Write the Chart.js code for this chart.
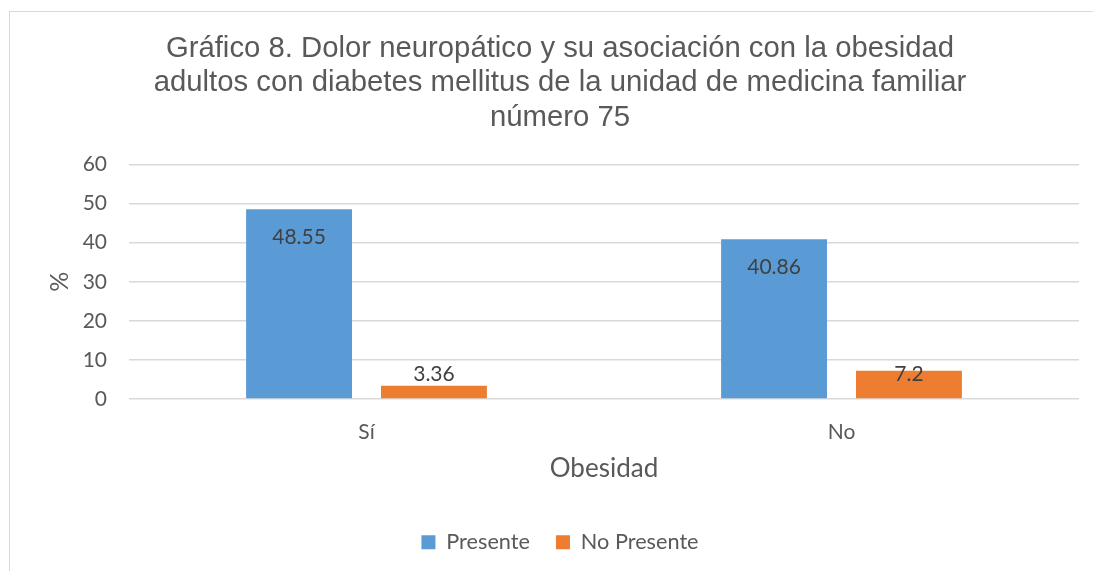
<!DOCTYPE html>
<html>
<head>
<meta charset="utf-8">
<script src="https://cdn.jsdelivr.net/npm/chart.js"></script>
<style>
  html, body { margin: 0; padding: 0; background: #fff; overflow: hidden; }
  #frame { position: absolute; left: 9px; top: 11px; width: 1200px; height: 700px; border-left: 1px solid #d9d9d9; border-top: 1px solid #d9d9d9; }
  #box { position: absolute; left: 10px; top: 11px; width: 1083px; height: 560px; }
</style>
</head>
<body>
<div id="frame"></div>
<div id="box"><canvas id="gchart"></canvas></div>
<script>
// datos
const categorias = ['Sí', 'No'];
const presente = [48.55, 40.86];
const noPresente = [3.36, 7.2];
const titulo = [
  'Gráfico 8. Dolor neuropático y su asociación con la obesidad',
  'adultos con diabetes mellitus de la unidad de medicina familiar',
  'número 75'
];

var labelFont = "Lato, 'Open Sans', sans-serif";

// etiquetas de valor como en excel
var valores = {
  id: 'valores',
  afterDatasetsDraw: function(chart) {
    var ctx = chart.ctx;
    ctx.save();
    ctx.font = '21px ' + labelFont;
    ctx.fillStyle = '#404040';
    ctx.textAlign = 'center';
    ctx.textBaseline = 'middle';
    chart.data.datasets.forEach(function(ds, i) {
      var meta = chart.getDatasetMeta(i);
      meta.data.forEach(function(bar, j) {
        var y = i === 0 ? bar.y + 28 : bar.base - 24;
        ctx.fillText(String(ds.data[j]), bar.x, y);
      });
    });
    ctx.restore();
  }
};

var ctx = document.getElementById('gchart').getContext('2d');

var data = {
  labels: categorias,
  datasets: [
    { label: 'Presente', data: presente, backgroundColor: '#5b9bd5' },
    { label: 'No Presente', data: noPresente, backgroundColor: '#ed7d31' }
  ]
};

var options = {
  responsive: true,
  maintainAspectRatio: false,
  animation: false,
  categoryPercentage: 0.568,
  barPercentage: 0.785,
  layout: { padding: { left: 31, right: 14, top: 0, bottom: 8 } },
  plugins: {
    tooltip: { enabled: false },
    title: {
      display: true,
      text: titulo,
      color: '#595959',
      font: { family: "'Liberation Sans', Arial, sans-serif", size: 29.3, weight: 'normal', lineHeight: 1.19 },
      padding: { top: 20, bottom: 29 }
    },
    legend: {
      position: 'bottom',
      labels: {
        color: '#595959',
        font: { family: labelFont, size: 21.7 },
        boxWidth: 14,
        boxHeight: 14,
        padding: 26
      }
    }
  },
  scales: {
    x: {
      grid: { display: false, drawTicks: false },
      border: { display: false },
      ticks: { color: '#595959', font: { family: labelFont, size: 21 }, padding: 21 },
      title: { display: true, text: 'Obesidad', color: '#595959', font: { family: labelFont, size: 26 }, padding: { top: 0, bottom: 21 } },
      afterFit: function(s) { s.height = 106.4; }
    },
    y: {
      min: 0,
      max: 60,
      ticks: { stepSize: 10, color: '#595959', font: { family: labelFont, size: 21 }, padding: 22 },
      grid: { color: '#d9d9d9', lineWidth: 1.5, drawTicks: false },
      border: { display: false },
      title: { display: true, text: '%', color: '#595959', font: { family: labelFont, size: 25 }, padding: { top: 4, bottom: 0 } },
      afterFit: function(s) { s.width = 88; }
    }
  }
};

var config = {
  type: 'bar',
  data: data,
  options: options,
  plugins: [valores]
};
var gchart = new Chart(ctx, config);
</script>
</body>
</html>
